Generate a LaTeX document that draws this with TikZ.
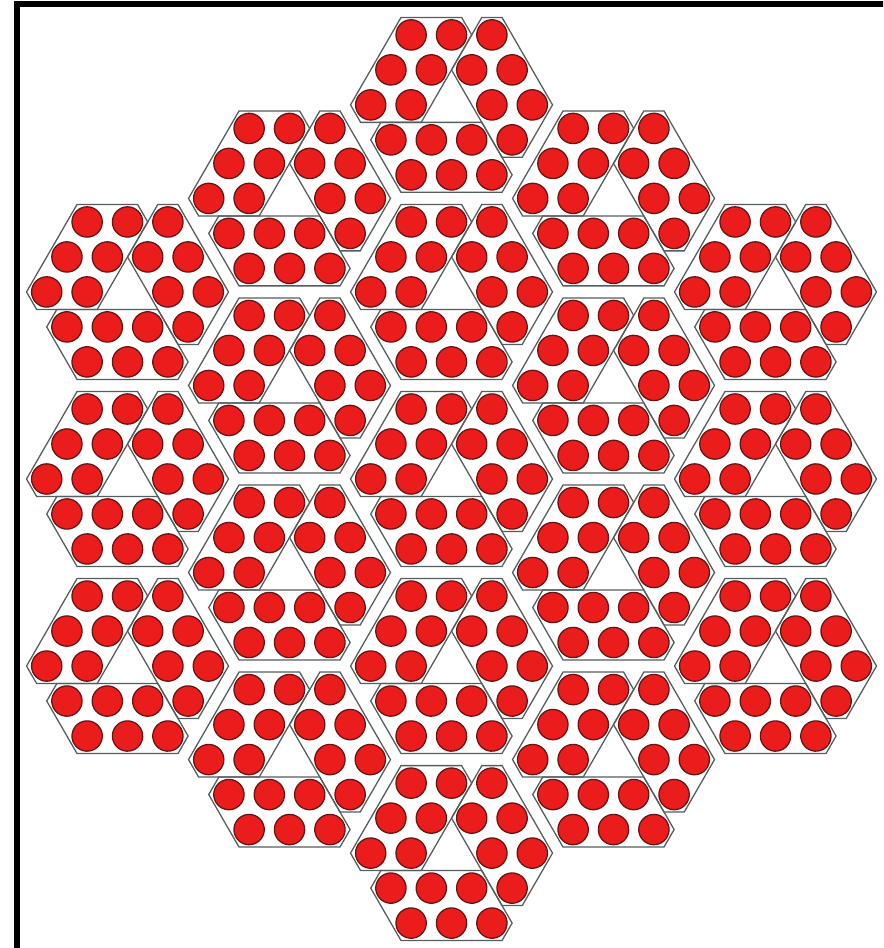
\documentclass[tikz,border=0pt]{standalone}
\usepackage{tikz}
\usetikzlibrary{calc}
\definecolor{dotred}{RGB}{234,28,28}
\definecolor{dotrim}{RGB}{105,20,20}
\definecolor{frame}{RGB}{85,94,94}

\begin{document}
\begin{tikzpicture}[
    piece/.style={draw=frame, line width=0.9pt, line join=miter},
    dot/.style={fill=dotred, draw=dotrim, line width=0.9pt}]

    % =================================================================
    % KHUNG TRANG: GIỮ ĐÚNG TỈ LỆ ẢNH
    % =================================================================
    \useasboundingbox (-11.176,-11.609) rectangle (10.681,11.856);
    \clip (-11.176,-11.609) rectangle (10.681,11.856);
    \fill[white] (-11.176,-11.609) rectangle (10.681,11.856);

    % Viền đen bên trái và phía trên
    \draw[line width=4.2pt] (-10.755,-12) -- (-10.755,11.745) -- (11,11.745);

    % =================================================================
    % 19 CỤM LỤC GIÁC, MỖI CỤM GỒM 3 MẢNH XOAY 120 ĐỘ
    % =================================================================
    \def\S{4.63}    % Khoảng cách giữa tâm hai cụm
    \def\rr{0.375}  % Bán kính chấm tròn

    \foreach \a in {-2,...,2} {
        \pgfmathtruncatemacro{\blo}{max(-2,-2-\a)}
        \pgfmathtruncatemacro{\bhi}{min(2,2-\a)}
        \foreach \b in {\blo,...,\bhi} {
            \foreach \r in {0,120,240} {
                \begin{scope}[shift={({\a*\S*cos(30)},{\S*(\a/2+\b)})}, rotate=\r]
                    % Đường bao của một mảnh
                    \draw[piece] (-2.25,-0.433) -- ++(0:1.5) -- ++(60:2.5)
                        -- ++(120:0.5) -- ++(180:1.5) -- ++(240:2.5) -- cycle;
                    % Sáu chấm đỏ trong mảnh
                    \foreach \x/\y in {-1/1.732, 0/1.732, -1.5/0.866,
                                       -0.5/0.866, -2/0, -1/0}
                        \filldraw[dot] (\x,\y) circle (\rr);
                \end{scope}
            }
        }
    }

\end{tikzpicture}
\end{document}
